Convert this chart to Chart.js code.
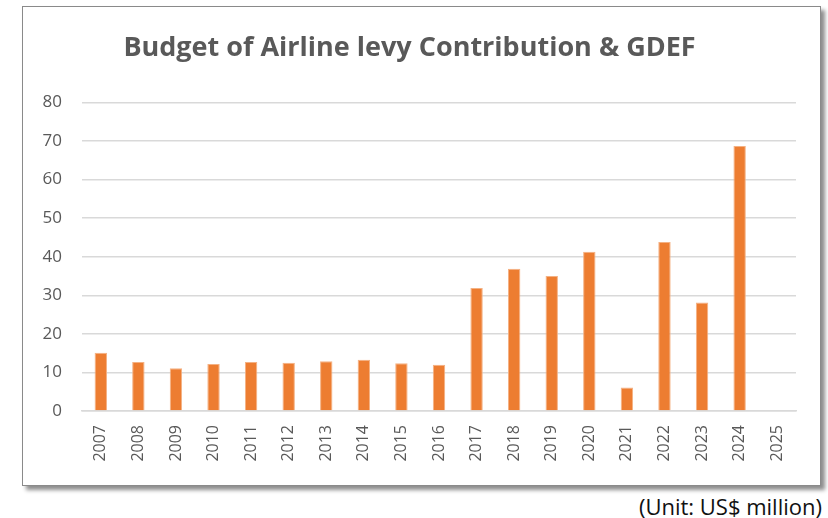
<!DOCTYPE html>
<html>
<head>
<meta charset="utf-8">
<script src="https://cdn.jsdelivr.net/npm/chart.js@4"></script>
<style>
  body { margin: 0; background: #fff; width: 828px; height: 518px; position: relative; overflow: hidden; }
  #frame {
    position: absolute; left: 22px; top: 6px; width: 797px; height: 478px;
    border: 1px solid #8a8a8a; background: #fff;
    box-shadow: 4px 4px 4px rgba(0,0,0,0.45);
  }
  #unit {
    position: absolute; right: 6px; top: 491px;
    font-family: "Open Sans", sans-serif; font-size: 22px; color: #111;
  }
</style>
</head>
<body>
<div id="frame"><canvas id="myChart" width="797" height="478"></canvas></div>
<div id="unit">(Unit: US$ million)</div>
<script>
const years = ['2007','2008','2009','2010','2011','2012','2013','2014','2015','2016',
  '2017','2018','2019','2020','2021','2022','2023','2024','2025'];
const budget = [15.1, 12.7, 11.1, 12.2, 12.7, 12.5, 12.9, 13.3, 12.4, 12.0,
  31.9, 36.9, 35.0, 41.3, 6.1, 43.8, 28.1, 68.7, null];
const yTicks = [0, 10, 20, 30, 40, 50, 60, 70, 80];

const grey = '#595959';
const font = "'Open Sans', sans-serif";

const config = {
  type: 'bar',
  data: {
    labels: years,
    datasets: [{
      label: 'Budget',
      data: budget,
      backgroundColor: '#ED7D31',
      borderColor: '#F4B183',
      borderWidth: { left: 1, right: 1, top: 1, bottom: 0 },
      barPercentage: 0.33,
      categoryPercentage: 1
    }]
  },
  options: {
    responsive: false,
    animation: false,
    layout: { padding: { left: 0, right: 24, top: 0, bottom: 8 } },
    plugins: {
      legend: { display: false },
      tooltip: { enabled: false },
      title: {
        display: true,
        text: 'Budget of Airline levy Contribution & GDEF',
        color: grey,
        font: { family: font, size: 27, weight: 'bold' },
        padding: { top: 25, bottom: 38 }
      }
    },
    scales: {
      y: {
        min: 0,
        max: 80,
        afterBuildTicks: (axis) => { axis.ticks = yTicks.map(v => ({ value: v })); },
        afterFit: (axis) => { axis.width = 59; },
        ticks: { color: grey, font: { family: font, size: 17 }, padding: 20 },
        grid: { color: '#d9d9d9', lineWidth: 1.5, drawTicks: false },
        border: { display: false }
      },
      x: {
        afterFit: (axis) => { axis.height = 66; },
        ticks: {
          color: grey, font: { family: font, size: 16 },
          minRotation: 90, maxRotation: 90, padding: 6, autoSkip: false
        },
        grid: { display: false },
        border: { color: '#d9d9d9', width: 1.5 }
      }
    }
  }
};

const myChart = new Chart(document.getElementById('myChart'), config);
</script>
</body>
</html>
